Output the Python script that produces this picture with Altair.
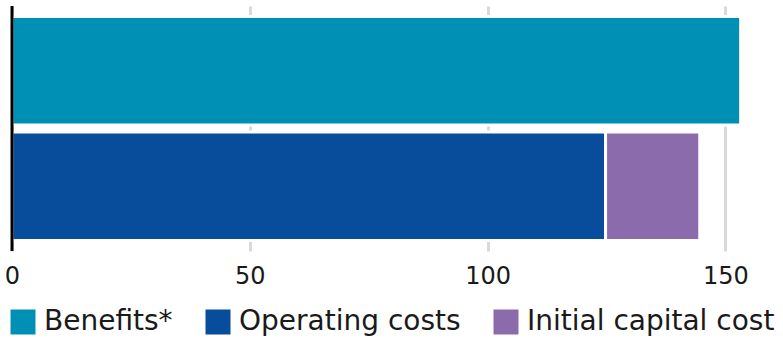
import altair as alt
import pandas as pd

rows = ["Benefits", "Costs", "Costs"]
components = ["Benefits*", "Operating costs", "Initial capital cost"]
values = [153.2, 124.8, 19.8]
stack_order = [0, 0, 1]
colors = ["#0190b5", "#074d9c", "#8c6bad"]
x_ticks = [0, 50, 100, 150]

df = pd.DataFrame({"row": rows, "component": components, "value": values, "ord": stack_order})
zero = pd.DataFrame({"x": [0]})

FONT = "DejaVu Sans"

bars = alt.Chart(df).mark_bar(stroke="white", strokeWidth=3).encode(
    y=alt.Y("row:N", sort=["Benefits", "Costs"], axis=None,
            scale=alt.Scale(paddingInner=0.0606, paddingOuter=0.091)),
    x=alt.X("value:Q", stack="zero",
            scale=alt.Scale(domain=[0, 160], nice=False),
            axis=alt.Axis(values=x_ticks, title=None, domain=False, ticks=False,
                          grid=True, gridColor="#d9d9d9", gridWidth=3,
                          labelFont=FONT, labelFontSize=24, labelColor="#1a1a1a",
                          labelPadding=13, labelFlush=False, format="d")),
    color=alt.Color("component:N",
                    scale=alt.Scale(domain=components, range=colors),
                    legend=alt.Legend(title=None, orient="none", direction="horizontal",
                                      legendX=-3, legendY=302,
                                      symbolType="square", symbolSize=625,
                                      symbolStrokeWidth=0, symbolOpacity=1,
                                      labelFont=FONT, labelFontSize=28, labelColor="#1a1a1a",
                                      labelOffset=7, columnPadding=31, labelLimit=400)),
    order=alt.Order("ord:Q"),
)

zero_rule = alt.Chart(zero).mark_rule(color="black", strokeWidth=3).encode(x="x:Q")

chart = alt.layer(bars, zero_rule).properties(
    width=761, height=245,
    autosize=alt.AutoSizeParams(type="none"),
    padding={"left": 12, "top": 6, "right": 10, "bottom": 88},
).configure_view(stroke=None)

chart.save("out.html", embed_options={"renderer": "svg", "actions": False})
